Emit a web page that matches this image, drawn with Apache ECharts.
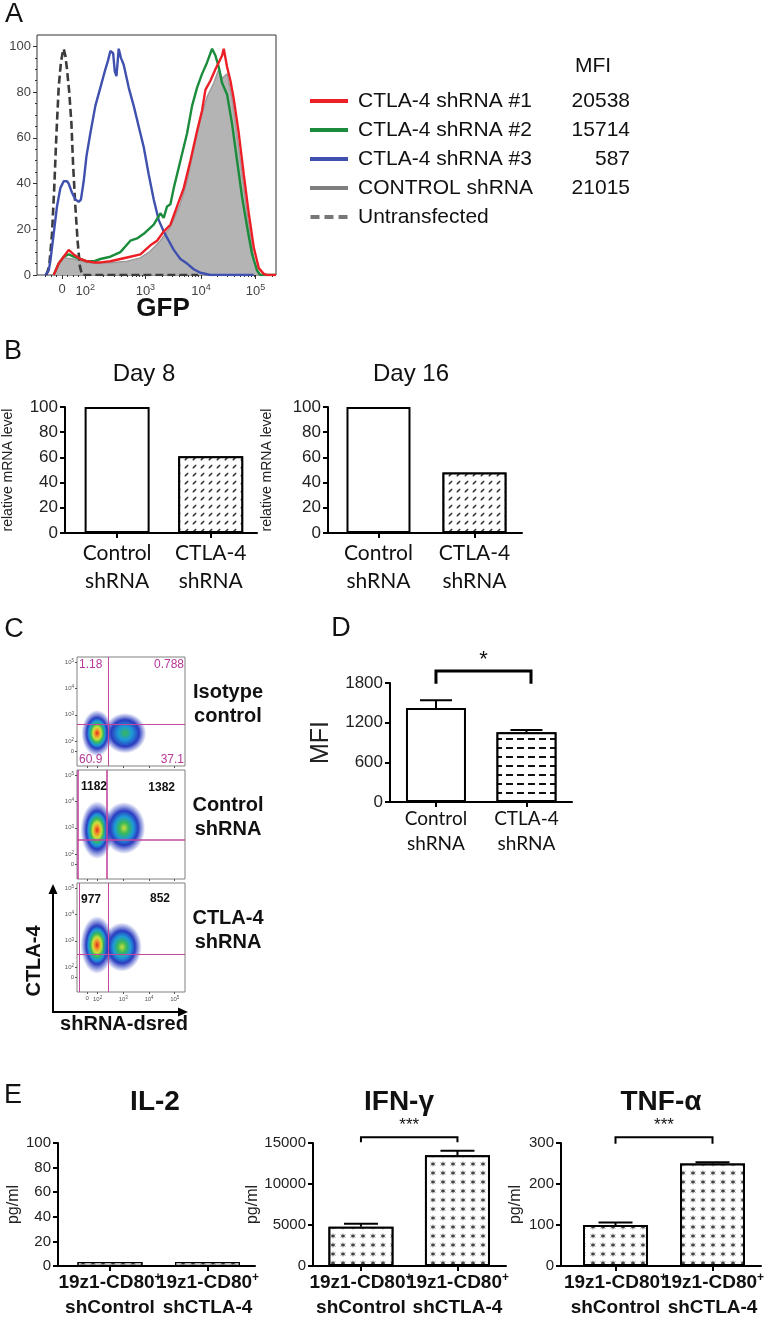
<!DOCTYPE html>
<html lang="en" style="height: 100%">
<head>
<meta charset="UTF-8">
<title>CTLA-4 shRNA knockdown</title>
<script src="https://cdn.jsdelivr.net/npm/echarts@6/dist/echarts.min.js"></script>
</head>
<body style="height: 100%; margin: 0">
<div id="main" style="width: 774px; height: 1320px"></div>
<script>
// ---------- A: GFP histograms (x = display decades, y = % of max) ----------
var untransfected = [[1.22,0],[1.27,4],[1.32,18],[1.36,38],[1.40,62],[1.44,82],[1.48,93],[1.51,97],[1.53,99],[1.56,96],[1.59,90],[1.63,80],[1.67,66],[1.70,48],[1.74,30],[1.78,15],[1.82,4],[1.86,0],[3.95,0]];
var shRna3 = [[1.20,0],[1.26,2],[1.29,6],[1.35,18],[1.41,30],[1.47,38],[1.53,41],[1.59,41],[1.62,40],[1.68,36],[1.74,33],[1.80,32],[1.84,33],[1.89,41],[1.94,52],[2.01,62],[2.10,74],[2.19,82],[2.28,90],[2.33,94],[2.37,98],[2.42,97],[2.45,89],[2.48,87],[2.52,99],[2.56,95],[2.61,92],[2.70,82],[2.79,74],[2.88,65],[2.97,56],[3.06,44],[3.15,33],[3.24,24],[3.33,19],[3.42,15],[3.51,11],[3.63,7],[3.75,5],[3.87,2.5],[3.99,1],[4.17,0],[4.95,0]];
var shRna2 = [[1.35,0],[1.44,5],[1.53,8],[1.62,9],[1.71,8],[1.83,7],[1.95,6],[2.07,6],[2.19,7],[2.37,8],[2.55,10],[2.73,15],[2.85,16],[2.97,18],[3.15,22],[3.27,27],[3.33,25],[3.39,30],[3.45,31],[3.51,38],[3.63,50],[3.75,62],[3.84,74],[3.93,82],[4.02,88],[4.11,93],[4.20,99],[4.26,96],[4.32,91],[4.38,84],[4.47,79],[4.56,66],[4.65,50],[4.74,34],[4.83,21],[4.92,9],[5.01,2],[5.07,0],[5.35,0]];
var shRna1 = [[1.35,0],[1.44,5],[1.53,8],[1.62,11],[1.71,9],[1.83,7],[1.95,6],[2.07,5.5],[2.19,5.5],[2.37,6],[2.55,7],[2.73,8],[2.91,9],[3.09,13],[3.21,15],[3.33,19],[3.45,22],[3.57,30],[3.69,38],[3.81,50],[3.93,63],[4.02,72],[4.08,81],[4.17,85],[4.26,90],[4.32,93],[4.38,96],[4.41,99],[4.47,91],[4.53,85],[4.59,77],[4.68,62],[4.77,44],[4.86,27],[4.95,12],[5.04,3],[5.13,0.5],[5.19,0],[5.35,0]];
var controlShRna = [[1.35,0],[1.44,5],[1.53,7.5],[1.71,7],[1.95,5.5],[2.19,5],[2.43,5.5],[2.67,6],[2.91,7.5],[3.09,10.5],[3.27,15],[3.45,21],[3.63,31],[3.75,41],[3.87,55],[3.99,68],[4.11,78],[4.23,84],[4.32,90],[4.38,86],[4.47,88],[4.56,77],[4.65,61],[4.74,44],[4.83,27],[4.92,12],[4.98,3],[5.04,0],[5.35,0]];
var histNames = ['CTLA-4 shRNA #1', 'CTLA-4 shRNA #2', 'CTLA-4 shRNA #3', 'CONTROL shRNA', 'Untransfected'];
var histMfi = ['20538', '15714', '587', '21015', ''];
var gfpTickPos = [1.5, 1.92, 3, 4, 4.98];
var gfpTickText = ['0', '10{s|2}', '10{s|3}', '10{s|4}', '10{s|5}'];
var gfpMinorTicks = [1.2, 1.3, 1.4, 1.6, 1.7, 1.8, 2.245, 2.435, 2.57, 2.675, 2.76, 2.833, 2.895, 2.95,
  3.301, 3.477, 3.602, 3.699, 3.778, 3.845, 3.903, 3.954, 4.301, 4.477, 4.602, 4.699, 4.778, 4.845, 4.903, 4.954, 5.28];
var pctTicks = [0, 20, 40, 60, 80, 100];
var pctMinorTicks = [5, 10, 15, 25, 30, 35, 45, 50, 55, 65, 70, 75, 85, 90, 95];

// ---------- B: relative mRNA level ----------
var shCats = ['Control\nshRNA', 'CTLA-4\nshRNA'];
var day8 = [100, 61];
var day16 = [100, 48];

// ---------- C: flow plots, density clusters [x, y, halfX, halfY, peak] ----------
var flowIsotype = [[1.98, 2.30, 0.55, 0.80, 0.9], [3.07, 2.30, 0.75, 0.70, 0.45]];
var flowControl = [[1.98, 2.91, 0.58, 1.00, 1.0], [3.03, 2.99, 0.75, 0.90, 0.6]];
var flowCtla = [[1.98, 2.84, 0.58, 1.00, 1.0], [2.95, 2.76, 0.70, 0.85, 0.6]];
var flowGateX = [2.41, 2.37, 2.41];
var flowGateY = [2.65, 2.53, 2.49];
var flowGateLeft = [null, 1.24, 1.28];
var flowQuad = [['1.18', '0.788', '60.9', '37.1'], ['1182', '1382'], ['977', '852']];
var flowNames = ['Isotype\ncontrol', 'Control\nshRNA', 'CTLA-4\nshRNA'];
var flowTickPos = [1.6, 2, 3, 4, 5];
var flowTickText = ['0', '10{s|2}', '10{s|3}', '10{s|4}', '10{s|5}'];

// ---------- D: CTLA-4 MFI ----------
var mfiMean = [1420, 1055];
var mfiErr = [120, 35];

// ---------- E: cytokines ----------
var eCats = ['19z1-CD80{sup|+}\nshControl', '19z1-CD80{sup|+}\nshCTLA-4'];
var il2 = [3.2, 3.2];
var il2Err = [0, 0];
var ifng = [4800, 13500];
var ifngErr = [350, 550];
var tnfa = [100, 250];
var tnfaErr = [6, 3];

var FONT = '"Liberation Sans", Arial, Helvetica, sans-serif';
var SOFT = 'Lato, "Open Sans", sans-serif';

var grids = [], xAxes = [], yAxes = [], series = [], texts = [];

function pick(pos, labels) {
    return function (v) {
        var best = 0;
        for (var i = 1; i < pos.length; i++) {
            if (Math.abs(pos[i] - v) < Math.abs(pos[best] - v)) best = i;
        }
        return labels[best];
    };
}

function txt(x, y, text, size, opt) {
    opt = opt || {};
    return {
        type: 'text', x: x, y: y, rotation: opt.rot || 0, silent: true, z: 100,
        style: {
            text: text, fontFamily: opt.family || FONT, fontSize: size,
            fontWeight: opt.bold ? 'bold' : 'normal', fill: opt.color || '#111',
            align: opt.align || 'center', verticalAlign: 'middle', lineHeight: opt.lh || size * 1.2
        }
    };
}

// ---------- A ----------
grids.push({left: 37, top: 35, width: 239, height: 240, show: true, borderColor: '#333', borderWidth: 1});
xAxes.push({
    gridIndex: 0, type: 'value', min: 1.05, max: 5.35, position: 'bottom',
    axisLine: {show: false},
    axisTick: {customValues: gfpTickPos, length: 4, lineStyle: {color: '#333'}},
    splitLine: {show: false},
    axisLabel: {
        customValues: gfpTickPos, formatter: pick(gfpTickPos, gfpTickText), margin: 8,
        fontFamily: FONT, fontSize: 13, color: '#444', hideOverlap: false,
        rich: {s: {fontFamily: FONT, fontSize: 9, color: '#444', padding: [0, 0, 7, 0]}}
    }
});
xAxes.push({
    gridIndex: 0, type: 'value', min: 1.05, max: 5.35, position: 'bottom',
    axisLine: {show: false}, axisLabel: {show: false}, splitLine: {show: false},
    axisTick: {customValues: gfpMinorTicks, length: 2, lineStyle: {color: '#333'}}
});
yAxes.push({
    gridIndex: 0, type: 'value', min: 0, max: 105, position: 'left',
    axisLine: {show: false}, splitLine: {show: false},
    axisTick: {customValues: pctTicks, length: 4, lineStyle: {color: '#333'}},
    axisLabel: {customValues: pctTicks, margin: 6, fontFamily: FONT, fontSize: 13, color: '#444'}
});
yAxes.push({
    gridIndex: 0, type: 'value', min: 0, max: 105, position: 'left',
    axisLine: {show: false}, axisLabel: {show: false}, splitLine: {show: false},
    axisTick: {customValues: pctMinorTicks, length: 2, lineStyle: {color: '#333'}}
});

function histLine(name, data, color, extra) {
    return Object.assign({
        name: name, type: 'line', xAxisIndex: 0, yAxisIndex: 0, data: data,
        symbol: 'none', showSymbol: false, itemStyle: {color: color},
        lineStyle: {color: color, width: 2.4}
    }, extra || {});
}
series.push(histLine('CONTROL shRNA', controlShRna, '#7f7f7f', {
    lineStyle: {color: '#9d9d9d', width: 1.5}, areaStyle: {color: '#b4b4b4', opacity: 1}, z: 1
}));
series.push(histLine('Untransfected', untransfected, '#3c3c3c', {
    lineStyle: {color: '#3c3c3c', width: 2.6, type: [8, 4]}, z: 2
}));
series.push(histLine('CTLA-4 shRNA #3', shRna3, '#3f50ae', {z: 3}));
series.push(histLine('CTLA-4 shRNA #2', shRna2, '#1a8c3c', {z: 4}));
series.push(histLine('CTLA-4 shRNA #1', shRna1, '#ec1f27', {z: 5}));

var solidIcon = 'path://M0,0H38V4H0Z';
var dashIcon = 'path://M0,0H9V4H0Z M14,0H23V4H14Z M28,0H37V4H28Z';
var legendItems = histNames.map(function (n) {
    if (n === 'Untransfected') return {name: n, icon: dashIcon, itemStyle: {color: '#777'}};
    return {name: n, icon: solidIcon};
});

texts.push(txt(14, 15, 'A', 27));
texts.push(txt(163, 309, 'GFP', 26, {bold: true}));
texts.push(txt(593, 66, 'MFI', 21));

// ---------- bar-chart helper (B, D, E) ----------
function plainNumber(v) { return String(v); }

function barPanel(o) {
    var g = grids.length;
    grids.push({left: o.left, top: o.top, width: o.width, height: o.height});
    var xi = xAxes.length, yi = yAxes.length;
    xAxes.push({
        gridIndex: g, type: 'value', min: o.xMin, max: o.xMax, position: 'bottom',
        axisLine: {lineStyle: {color: '#000', width: 2}},
        axisTick: {customValues: [0, 1], length: 5, lineStyle: {color: '#000', width: 2}},
        splitLine: {show: false},
        axisLabel: {show: false}
    });
    // one label-only axis per category, so wide neighbouring labels are never culled
    o.cats.forEach(function (cat, i) {
        xAxes.push({
            gridIndex: g, type: 'value', min: o.xMin, max: o.xMax, position: 'bottom',
            axisLine: {show: false}, axisTick: {show: false}, splitLine: {show: false},
            axisLabel: {
                customValues: [i], formatter: function () { return cat; }, margin: o.labelMargin,
                fontFamily: o.labelFamily, fontSize: o.labelSize, fontWeight: o.labelWeight || 'normal',
                lineHeight: o.labelLineHeight, color: '#111', rich: o.rich || {}
            }
        });
    });
    yAxes.push({
        gridIndex: g, type: 'value', min: 0, max: o.yMax, interval: o.yStep,
        axisLine: {show: true, onZero: false, lineStyle: {color: '#000', width: 2}},
        axisTick: {show: true, length: 5, lineStyle: {color: '#000', width: 2}},
        splitLine: {show: false},
        axisLabel: {margin: 7, fontFamily: FONT, fontSize: o.tickSize, color: '#222', formatter: plainNumber},
        name: o.yName, nameLocation: 'middle', nameGap: o.nameGap, nameRotate: 90,
        nameTextStyle: {fontFamily: FONT, fontSize: o.nameSize, color: '#222'}
    });
    series.push({
        type: 'bar', xAxisIndex: xi, yAxisIndex: yi, barWidth: o.barWidth, silent: true,
        data: o.values.map(function (v, i) {
            return {value: [i, v], itemStyle: o.styles[i]};
        })
    });
    if (o.errs) {
        var errData = [];
        o.values.forEach(function (v, i) { if (o.errs[i] > 0) errData.push([i, v, o.errs[i]]); });
        series.push({
            type: 'custom', xAxisIndex: xi, yAxisIndex: yi, silent: true, data: errData, z: 3,
            renderItem: function (params, api) {
                var base = api.coord([api.value(0), api.value(1)]);
                var top = api.coord([api.value(0), api.value(1) + api.value(2)]);
                var st = {stroke: '#000', lineWidth: 2};
                return {type: 'group', children: [
                    {type: 'line', shape: {x1: base[0], y1: base[1], x2: top[0], y2: top[1]}, style: st},
                    {type: 'line', shape: {x1: top[0] - o.cap, y1: top[1], x2: top[0] + o.cap, y2: top[1]}, style: st}
                ]};
            }
        });
    }
    if (o.bracket) {
        var b = o.bracket;
        series.push({
            type: 'custom', xAxisIndex: xi, yAxisIndex: yi, silent: true, z: 3,
            data: [[b.from, b.to, b.top, b.leg, b.textAt]],
            renderItem: function (params, api) {
                var a = api.coord([api.value(0), api.value(2)]);
                var c = api.coord([api.value(1), api.value(2)]);
                var legY = api.coord([0, api.value(3)])[1];
                var t = api.coord([(api.value(0) + api.value(1)) / 2, api.value(4)]);
                return {type: 'group', children: [
                    {type: 'polyline', shape: {points: [[a[0], legY], [a[0], a[1]], [c[0], c[1]], [c[0], legY]]},
                        style: {stroke: '#000', lineWidth: b.width, fill: null}},
                    {type: 'text', x: t[0], y: t[1], style: {text: b.label, fontFamily: FONT, fontSize: b.size,
                        fill: '#111', align: 'center', verticalAlign: 'middle'}}
                ]};
            }
        });
    }
}

var plainBar = {color: '#fff', borderColor: '#000', borderWidth: 2};
var slashBar = {color: '#fff', borderColor: '#000', borderWidth: 2, decal: {
    symbol: 'path://M0,10L3,10L10,3L10,0L7,0L0,7Z', symbolSize: 0.75,
    dashArrayX: [5, 3], dashArrayY: [5, 2.5], color: '#333', backgroundColor: '#fff'
}};
var dashBar = {color: '#fff', borderColor: '#000', borderWidth: 2, decal: {
    symbol: 'rect', symbolSize: 1, dashArrayX: [7, 4], dashArrayY: [2, 7], color: '#111', backgroundColor: '#fff'
}};
var starDecal = {
    symbol: 'path://M5,0L6,3.5L10,2.5L7,5L10,7.5L6,6.5L5,10L4,6.5L0,7.5L3,5L0,2.5L4,3.5Z', symbolSize: 1,
    dashArrayX: [6, 3.3], dashArrayY: [6, 2.7], color: '#444', backgroundColor: '#fff'
};
var starBar = {color: '#fff', borderColor: '#000', borderWidth: 2, decal: starDecal};
var thinStarBar = {color: '#fff', borderColor: '#000', borderWidth: 1.3, decal: starDecal};

// ---------- B ----------
var bCommon = {
    top: 407, height: 126, yMax: 100, yStep: 20, cats: shCats, tickSize: 17,
    labelFamily: SOFT, labelSize: 21, labelLineHeight: 28, labelMargin: 6,
    yName: 'relative mRNA level', nameSize: 14, styles: [plainBar, slashBar]
};
barPanel(Object.assign({}, bCommon, {left: 58, width: 199, xMin: -0.557, xMax: 1.495, values: day8, barWidth: 65, nameGap: 50}));
barPanel(Object.assign({}, bCommon, {left: 328, width: 194, xMin: -0.526, xMax: 1.495, values: day16, barWidth: 64, nameGap: 54}));
texts.push(txt(13, 352, 'B', 27));
texts.push(txt(144, 374, 'Day 8', 24));
texts.push(txt(411, 374, 'Day 16', 24));

// ---------- C: flow density plots ----------
var JET = ['#2a3cc0', '#1e9ad8', '#36b85a', '#cfe03c', '#f28c28', '#dc2626'];
function densityFill(peak) {
    var top = Math.round(peak * (JET.length - 1));
    var stops = [];
    for (var i = top; i >= 0; i--) {
        stops.push({offset: 0.66 * (top - i) / Math.max(top, 1), color: JET[i]});
    }
    stops.push({offset: 0.84, color: 'rgba(42,60,192,0.45)'});
    stops.push({offset: 1, color: 'rgba(42,60,192,0)'});
    return new echarts.graphic.RadialGradient(0.5, 0.5, 0.5, stops);
}

var flowSets = [flowIsotype, flowControl, flowCtla];
var flowTops = [657, 770, 883];
flowSets.forEach(function (clusters, k) {
    var g = grids.length;
    grids.push({left: 77, top: flowTops[k], width: 108, height: 109, show: true, borderColor: '#808080', borderWidth: 1});
    var xi = xAxes.length, yi = yAxes.length;
    var sup = {s: {fontFamily: FONT, fontSize: 4.5, color: '#555', padding: [0, 0, 3, 0]}};
    xAxes.push({
        gridIndex: g, type: 'value', min: 1.2, max: 5.4,
        axisLine: {show: false}, splitLine: {show: false},
        axisTick: {customValues: flowTickPos, length: 2, lineStyle: {color: '#555'}},
        axisLabel: {show: k === 2, customValues: flowTickPos, formatter: pick(flowTickPos, flowTickText),
            margin: 3, fontFamily: FONT, fontSize: 6, color: '#555', rich: sup, hideOverlap: false}
    });
    yAxes.push({
        gridIndex: g, type: 'value', min: 1.05, max: 5.2,
        axisLine: {show: false}, splitLine: {show: false},
        axisTick: {customValues: flowTickPos, length: 2, lineStyle: {color: '#555'}},
        axisLabel: {customValues: flowTickPos, formatter: pick(flowTickPos, flowTickText),
            margin: 3, fontFamily: FONT, fontSize: 6, color: '#555', rich: sup, hideOverlap: false}
    });
    var gates = [{xAxis: flowGateX[k]}, {yAxis: flowGateY[k]}];
    if (flowGateLeft[k] !== null) gates.push({xAxis: flowGateLeft[k]});
    series.push({
        type: 'custom', xAxisIndex: xi, yAxisIndex: yi, clip: true, silent: true, data: clusters,
        renderItem: function (params, api) {
            var c = api.coord([api.value(0), api.value(1)]);
            var s = api.size([api.value(2) * 1.1, api.value(3) * 1.1]);
            return {type: 'circle', x: c[0], y: c[1], scaleY: s[1] / s[0],
                shape: {cx: 0, cy: 0, r: s[0]}, style: {fill: densityFill(api.value(4))}};
        },
        markLine: {
            silent: true, symbol: 'none', label: {show: false},
            lineStyle: {color: '#c2479e', width: k === 1 ? 1.6 : 1, type: 'solid'},
            data: gates
        }
    });
    texts.push(txt(228, flowTops[k] + 47, flowNames[k], 20, {bold: true, lh: 24}));
});
// quadrant statistics
texts.push(txt(79, 665, flowQuad[0][0], 12, {align: 'left', color: '#b5389a'}));
texts.push(txt(184, 665, flowQuad[0][1], 12, {align: 'right', color: '#b5389a'}));
texts.push(txt(79, 760, flowQuad[0][2], 12, {align: 'left', color: '#b5389a'}));
texts.push(txt(184, 760, flowQuad[0][3], 12, {align: 'right', color: '#b5389a'}));
texts.push(txt(81, 787, flowQuad[1][0], 12, {align: 'left', bold: true}));
texts.push(txt(175, 788, flowQuad[1][1], 12, {align: 'right', bold: true}));
texts.push(txt(81, 900, flowQuad[2][0], 12, {align: 'left', bold: true}));
texts.push(txt(170, 899, flowQuad[2][1], 12, {align: 'right', bold: true}));
texts.push(txt(14, 630, 'C', 27));
texts.push(txt(34, 961, 'CTLA-4', 20, {bold: true, rot: Math.PI / 2}));
texts.push(txt(124, 1024, 'shRNA-dsred', 20, {bold: true}));
texts.push({type: 'line', silent: true, shape: {x1: 53, y1: 1012, x2: 53, y2: 891}, style: {stroke: '#000', lineWidth: 2}});
texts.push({type: 'polygon', silent: true, shape: {points: [[53, 884], [48.5, 894], [57.5, 894]]}, style: {fill: '#000'}});
texts.push({type: 'line', silent: true, shape: {x1: 52, y1: 1012, x2: 180, y2: 1012}, style: {stroke: '#000', lineWidth: 2}});
texts.push({type: 'polygon', silent: true, shape: {points: [[188, 1012], [178, 1007.5], [178, 1016.5]]}, style: {fill: '#000'}});

// ---------- D ----------
barPanel({
    left: 390, top: 683, width: 182, height: 119, xMin: -0.508, xMax: 1.503,
    yMax: 1800, yStep: 600, cats: shCats, values: mfiMean, errs: mfiErr, cap: 16,
    barWidth: 60, styles: [plainBar, dashBar], tickSize: 17,
    labelFamily: SOFT, labelSize: 19, labelLineHeight: 25, labelMargin: 4,
    yName: 'MFI', nameGap: 56, nameSize: 25,
    bracket: {from: 0, to: 1.05, top: 1980, leg: 1790, textAt: 2150, label: '*', size: 22, width: 3}
});
texts.push(txt(341, 629, 'D', 27));

// ---------- E ----------
var eCommon = {
    top: 1143, height: 128, cats: eCats, tickSize: 15,
    labelFamily: FONT, labelSize: 19, labelWeight: 'bold', labelLineHeight: 25, labelMargin: 4,
    rich: {sup: {fontFamily: FONT, fontSize: 12, fontWeight: 'bold', color: '#111', padding: [0, 0, 9, 0]}},
    yName: 'pg/ml', nameSize: 16, barWidth: 65, cap: 17, styles: [starBar, starBar]
};
barPanel(Object.assign({}, eCommon, {left: 58, width: 197, xMin: -0.533, xMax: 1.487,
    yMax: 100, yStep: 20, values: il2, errs: il2Err, nameGap: 34, styles: [thinStarBar, thinStarBar]}));
barPanel(Object.assign({}, eCommon, {left: 313, width: 193, xMin: -0.497, xMax: 1.503,
    yMax: 15000, yStep: 5000, values: ifng, errs: ifngErr, nameGap: 41,
    bracket: {from: 0, to: 1, top: 15700, leg: 15100, textAt: 17200, label: '***', size: 17, width: 2}}));
barPanel(Object.assign({}, eCommon, {left: 561, width: 200, xMin: -0.562, xMax: 1.5,
    yMax: 300, yStep: 100, values: tnfa, errs: tnfaErr, nameGap: 37,
    bracket: {from: 0, to: 1, top: 314, leg: 298, textAt: 344, label: '***', size: 17, width: 2}}));
texts.push(txt(13, 1096, 'E', 27));
texts.push(txt(155, 1102, 'IL-2', 28, {bold: true}));
texts.push(txt(399, 1102, 'IFN-γ', 28, {bold: true}));
texts.push(txt(661, 1102, 'TNF-α', 28, {bold: true}));

var option = {
    animation: false,
    backgroundColor: '#fff',
    legend: {
        orient: 'vertical', left: 305, top: 85, selectedMode: false,
        data: legendItems, itemWidth: 38, itemHeight: 4, itemGap: 7,
        textStyle: {
            fontFamily: FONT, fontSize: 21, color: '#111', lineHeight: 22,
            rich: {
                n: {fontFamily: FONT, fontSize: 21, color: '#111', width: 200, padding: [0, 0, 0, 5]},
                v: {fontFamily: FONT, fontSize: 21, color: '#111', width: 72, align: 'right'}
            }
        },
        formatter: function (name) {
            return '{n|' + name + '}{v|' + histMfi[histNames.indexOf(name)] + '}';
        }
    },
    grid: grids,
    xAxis: xAxes,
    yAxis: yAxes,
    series: series,
    graphic: {elements: texts}
};

var myChart = echarts.init(document.getElementById('main'));
myChart.setOption(option);
</script>
</body>
</html>
